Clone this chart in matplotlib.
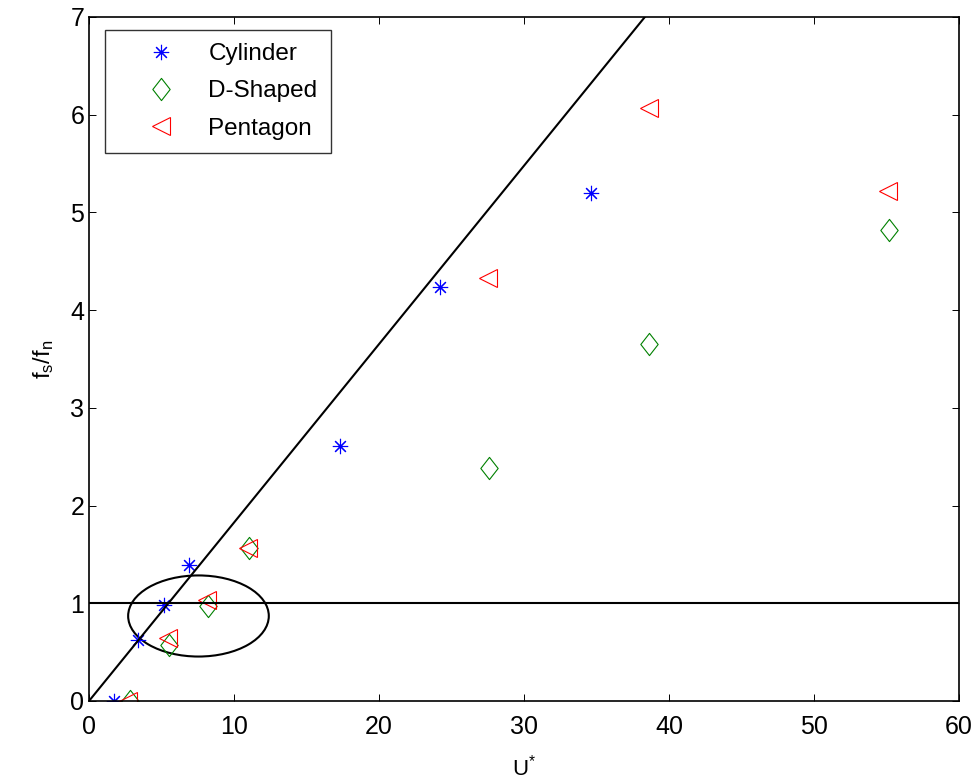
import matplotlib
matplotlib.use("Agg")
import matplotlib.pyplot as plt
from matplotlib.patches import Ellipse
from matplotlib.path import Path
import numpy as np

plt.rcParams['font.family'] = ['Liberation Sans', 'DejaVu Sans']
plt.rcParams['mathtext.fontset'] = 'custom'
plt.rcParams['mathtext.rm'] = 'Liberation Sans'
plt.rcParams['mathtext.it'] = 'Liberation Sans'

cyl_x = [1.7, 3.4, 5.2, 6.9, 17.3, 24.2, 34.6]
cyl_y = [0.0, 0.62, 0.98, 1.39, 2.61, 4.24, 5.20]

dsh_x = [2.85, 5.55, 8.2, 11.05, 27.6, 38.6, 55.2]
dsh_y = [0.0, 0.57, 0.97, 1.57, 2.38, 3.65, 4.82]

pen_x = [2.7, 5.45, 8.15, 10.95, 27.5, 38.6, 55.1]
pen_y = [0.0, 0.64, 1.03, 1.57, 4.33, 6.07, 5.22]

slope = 0.1826
ell_center = (7.55, 0.87)
ell_w, ell_h = 9.7, 0.83

fig = plt.figure(figsize=(9.76, 7.83), dpi=100)
ax = fig.add_axes([89/976, 1-701/783, (959-89)/976, (701-17)/783])

diamond = Path([(0, 1), (0.78, 0), (0, -1), (-0.78, 0), (0, 1)],
               [Path.MOVETO, Path.LINETO, Path.LINETO, Path.LINETO, Path.CLOSEPOLY])

ax.plot(cyl_x, cyl_y, linestyle='none', marker=(8, 2, 0), markersize=11,
        markeredgecolor='blue', markeredgewidth=0.8, color='blue', label='Cylinder')
ax.plot(dsh_x, dsh_y, linestyle='none', marker=diamond, markersize=16,
        markeredgecolor=(0, 0.5, 0), markerfacecolor='none', markeredgewidth=0.8, label='D-Shaped')
ax.plot(pen_x, pen_y, linestyle='none', marker='<', markersize=13,
        markeredgecolor='red', markerfacecolor='none', markeredgewidth=0.8, label='Pentagon')

xs = np.array([0, 7 / slope])
ax.plot(xs, slope * xs, color='black', lw=1.5)
ax.plot([0, 60], [1, 1], color='black', lw=1.5)
ax.add_patch(Ellipse(ell_center, ell_w, ell_h, fill=False, edgecolor='black', lw=1.5))

ax.set_xlim(0, 60)
ax.set_ylim(0, 7)
ax.set_xticks(range(0, 61, 10))
ax.set_yticks(range(0, 8))
ax.tick_params(direction='in', top=True, right=True, labelsize=18, length=5, width=0.7)
ax.tick_params(axis='x', pad=10)
ax.tick_params(axis='y', pad=3.5)
for s in ax.spines.values():
    s.set_linewidth(1.2)

ax.set_xlabel(r'U$^{*}$', fontsize=16, labelpad=11)
ax.set_ylabel(r'f$_{\mathrm{s}}$/f$_{\mathrm{n}}$', fontsize=17, labelpad=10)

leg = ax.legend(loc='upper left', bbox_to_anchor=(16/870, 1-13/684), fontsize=17.5,
                frameon=True, fancybox=False, edgecolor='black', borderpad=0.55,
                labelspacing=0.62, handletextpad=0.2, borderaxespad=0, handlelength=3.5)
leg.get_frame().set_linewidth(1.0)

fig.savefig('out.png', dpi=100)
